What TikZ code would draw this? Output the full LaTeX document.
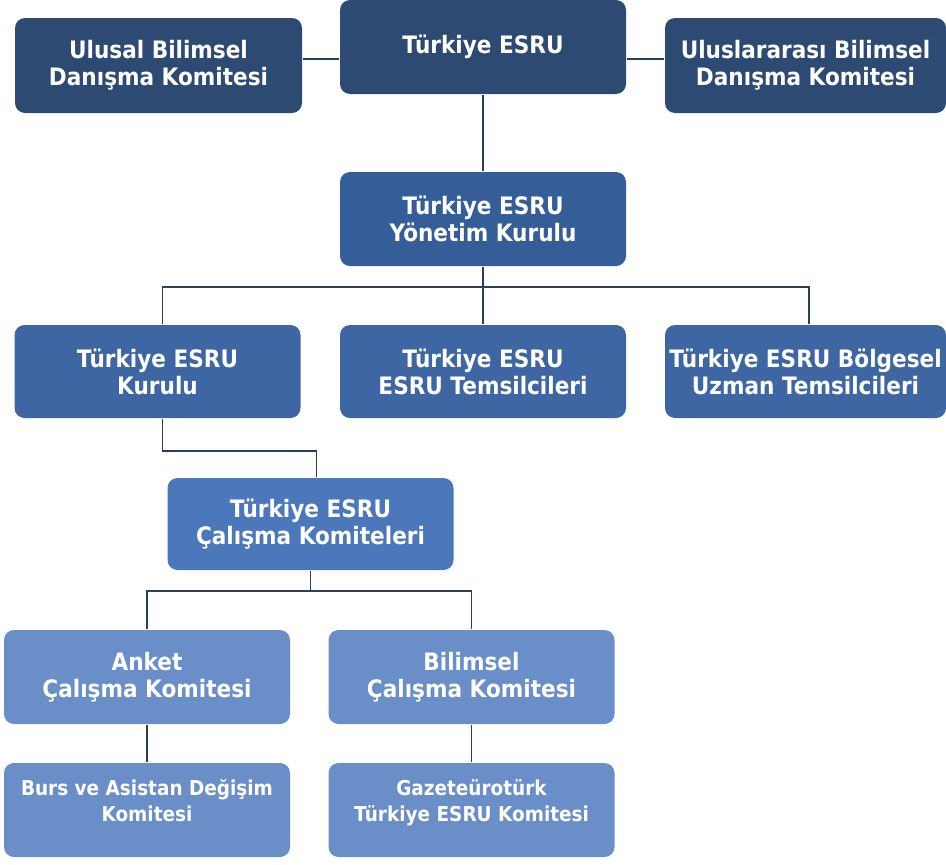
\documentclass[tikz,border=0pt]{standalone}
\usepackage{fontspec}
\setmainfont[FakeStretch=0.9]{DejaVu Sans}
\usepackage{tikz}
\usetikzlibrary{positioning}
\usepackage{xcolor}

\definecolor{levelone}{HTML}{2D4A73}
\definecolor{leveltwo}{HTML}{355E98}
\definecolor{levelthree}{HTML}{3D66A2}
\definecolor{levelfour}{HTML}{4A78BA}
\definecolor{levelfive}{HTML}{6A8FC8}
\definecolor{linkline}{HTML}{2A3F5A}

\begin{document}
\begin{tikzpicture}[x=1pt,y=-1pt,line width=1.8pt,draw=linkline]
    \tikzstyle{box}=[rectangle,rounded corners=10pt,draw=none,fill=levelone,text=white,
                     align=center,font=\bfseries\fontsize{24}{27}\selectfont,
                     minimum width=286pt,minimum height=94pt,inner sep=0pt]
    \tikzstyle{small box}=[box,fill=levelfive,text depth=19pt,font=\bfseries\fontsize{20.5}{26}\selectfont]
    \useasboundingbox (0,0) rectangle (946,865);

    \node[box]                  (esru)     at (483,47)      {Türkiye ESRU};
    \node[box,minimum width=287pt,minimum height=95pt] (ulusal)   at (158.5,65.5)  {Ulusal Bilimsel\\Danışma Komitesi};
    \node[box,minimum width=281pt,minimum height=95pt] (uluslar)  at (805.5,65.5)  {Uluslararası Bilimsel\\Danışma Komitesi};

    \node[box,fill=leveltwo]    (yonetim)  at (483,219)     {Türkiye ESRU\\Yönetim Kurulu};

    \node[box,fill=levelthree,minimum height=93pt]   (kurulu)   at (157.5,371.5) {Türkiye ESRU\\Kurulu};
    \node[box,fill=levelthree,minimum height=93pt]   (temsil)   at (483,371.5)   {Türkiye ESRU\\ESRU Temsilcileri};
    \node[box,fill=levelthree,minimum width=281pt,minimum height=93pt] (bolgesel) at (805.5,371.5) {Türkiye ESRU Bölgesel\\Uzman Temsilcileri};

    \node[box,fill=levelfour,minimum height=92pt]    (calisma)  at (310.5,524)   {Türkiye ESRU\\Çalışma Komiteleri};

    \node[box,fill=levelfive]   (anket)    at (147,677)     {Anket\\Çalışma Komitesi};
    \node[box,fill=levelfive]   (bilimsel) at (471.5,677)   {Bilimsel\\Çalışma Komitesi};

    \node[small box]            (burs)     at (147,810)     {Burs ve Asistan Değişim\\Komitesi};
    \node[small box]            (gazete)   at (471.5,810)   {Gazeteürotürk\\Türkiye ESRU Komitesi};

    \draw ([yshift=6.5pt]ulusal.east) -- ([yshift=6.5pt]ulusal.east -| esru.west);
    \draw ([yshift=6.5pt]uluslar.west) -- ([yshift=6.5pt]uluslar.west -| esru.east);
    \draw (esru) -- (yonetim);
    \draw (yonetim.south) -- ++(0,20) -| ([xshift=5pt]kurulu.north);
    \draw (yonetim.south) -- (temsil.north);
    \draw (yonetim.south) -- ++(0,20) -| ([xshift=3.5pt]bolgesel.north);
    \draw ([xshift=5pt]kurulu.south) -- ++(0,32) -| ([xshift=6pt]calisma.north);
    \draw (calisma.south) -- ++(0,20) -| (anket.north);
    \draw (calisma.south) -- ++(0,20) -| (bilimsel.north);
    \draw (anket) -- (burs);
    \draw (bilimsel) -- (gazete);
\end{tikzpicture}
\end{document}
